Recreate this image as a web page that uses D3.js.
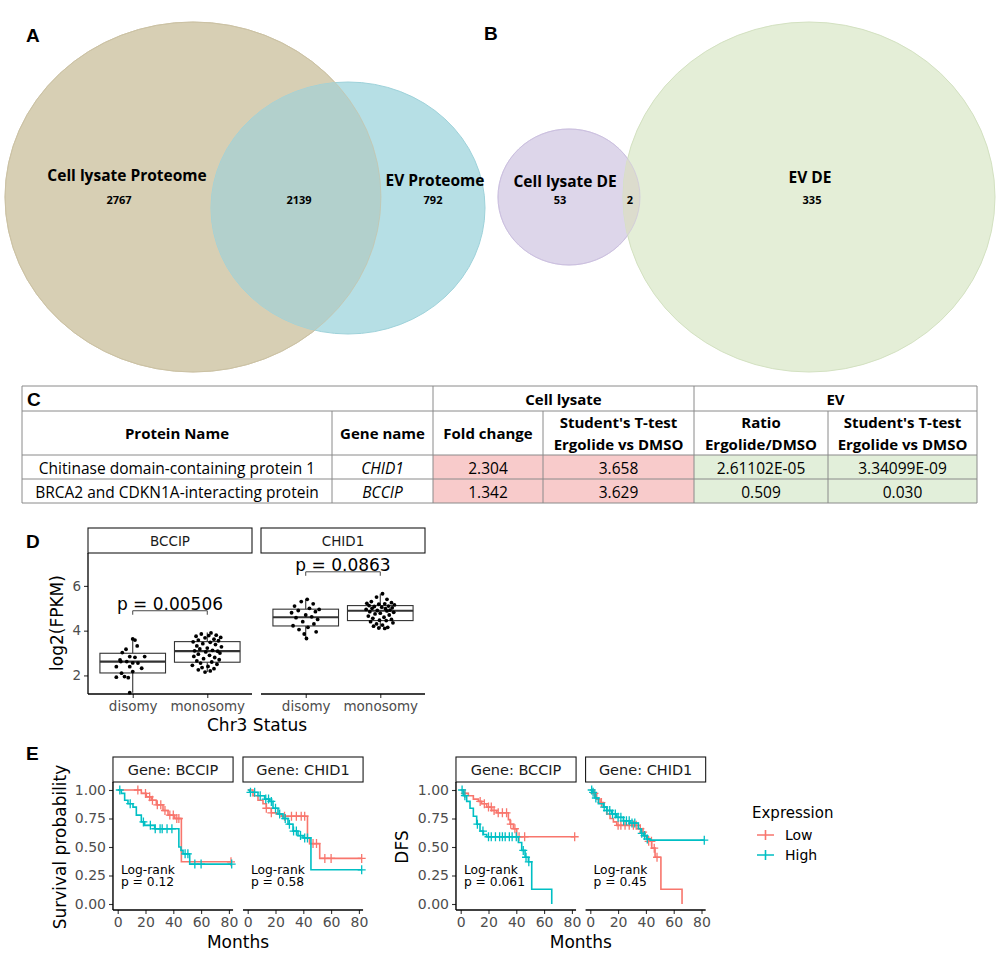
<!DOCTYPE html>
<html><head><meta charset="utf-8">
<script src="https://cdn.jsdelivr.net/npm/d3@7"></script>
<style>body{margin:0;background:#fff}svg{display:block}</style>
</head><body><svg id="fig" width="1000" height="970"></svg>
<script>
// ---------------- DATA ----------------
const vennASets = ["Cell lysate Proteome", "EV Proteome"];
const vennACounts = [2767, 2139, 792];           // left only, shared, right only
const vennBSets = ["Cell lysate DE", "EV DE"];
const vennBCounts = [53, 2, 335];

const tableGroups = ["Cell lysate", "EV"];
const tableHeaders = [["Protein Name"], ["Gene name"], ["Fold change"],
  ["Student's T-test", "Ergolide vs DMSO"], ["Ratio", "Ergolide/DMSO"], ["Student's T-test", "Ergolide vs DMSO"]];
const proteinNames = ["Chitinase domain-containing protein 1", "BRCA2 and CDKN1A-interacting protein"];
const geneNames = ["CHID1", "BCCIP"];
const lysateFoldChange = ["2.304", "1.342"];
const lysateTTest = ["3.658", "3.629"];
const evRatio = ["2.61102E-05", "0.509"];
const evTTest = ["3.34099E-09", "0.030"];

const boxGenes = ["BCCIP", "CHID1"];
const chr3Status = ["disomy", "monosomy"];
const yTicksD = [2, 4, 6];
// [min, q1, median, q3, max] per status
const boxBCCIP = [[1.23, 2.11, 2.62, 2.99, 3.63], [2.15, 2.59, 3.09, 3.51, 3.92]];
const boxCHID1 = [[3.65, 4.21, 4.60, 4.96, 5.40], [4.10, 4.45, 4.89, 5.12, 5.65]];
const pLabelsD = ["p = 0.00506", "p = 0.0863"];
const bracketHeightsD = [4.89, 6.63];
// [jitter offset (fraction of category step), log2(FPKM)]
const ptsBCCIPDisomy = [[0.00,3.63],[0.03,3.58],[-0.09,3.17],[0.06,3.32],[-0.14,3.02],[-0.04,2.84],[0.03,2.81],[0.16,2.84],
  [-0.17,2.69],[-0.08,2.62],[0.00,2.56],[-0.22,2.39],[-0.04,2.39],[0.12,2.32],[-0.15,2.10],[0.00,2.17],[-0.11,1.95],
  [-0.22,1.92],[-0.06,1.90],[-0.04,1.23],[-0.16,2.62],[0.07,2.55]];
const ptsBCCIPMonosomy = [[0.05,3.90],[-0.08,3.85],[0.12,3.80],[0.02,3.78],[-0.15,3.75],[0.18,3.70],[-0.03,3.68],[0.09,3.62],
  [-0.12,3.58],[0.15,3.55],[-0.19,3.50],[0.04,3.48],[-0.06,3.42],[0.11,3.38],[-0.14,3.32],[0.19,3.28],[0.00,3.22],[-0.10,3.18],
  [0.07,3.12],[-0.17,3.10],[0.14,3.08],[-0.02,3.05],[0.17,3.00],[-0.12,2.95],[0.03,2.90],[-0.18,2.85],[0.10,2.80],[-0.05,2.75],
  [0.16,2.70],[-0.14,2.65],[0.06,2.60],[-0.09,2.55],[0.13,2.50],[-0.20,2.45],[0.01,2.40],[-0.07,2.35],[0.09,2.30],[-0.12,2.25],
  [0.04,2.20],[-0.03,2.15]];
const ptsCHID1Disomy = [[0.02,5.40],[-0.06,5.30],[0.10,5.20],[-0.15,5.10],[0.05,5.00],[0.18,4.95],[-0.10,4.90],[0.13,4.85],
  [-0.19,4.80],[0.00,4.70],[0.08,4.62],[-0.13,4.58],[0.16,4.50],[-0.04,4.40],[0.11,4.30],[-0.17,4.22],[0.03,4.15],[-0.09,4.05],
  [0.14,3.95],[-0.02,3.85],[0.01,3.65]];
const ptsCHID1Monosomy = [[0.03,5.65],[-0.05,5.50],[0.09,5.40],[-0.12,5.30],[0.15,5.25],[-0.18,5.22],[0.06,5.20],[-0.02,5.18],
  [0.19,5.15],[-0.15,5.12],[0.11,5.10],[-0.08,5.08],[0.02,5.05],[0.16,5.02],[-0.11,5.00],[0.07,4.98],[-0.19,4.95],[0.13,4.92],
  [-0.04,4.90],[0.09,4.88],[-0.14,4.85],[0.18,4.82],[0.00,4.78],[-0.07,4.75],[0.12,4.70],[-0.16,4.65],[0.05,4.60],[-0.10,4.55],
  [0.15,4.50],[-0.01,4.47],[0.08,4.45],[-0.13,4.40],[0.17,4.35],[-0.05,4.30],[0.03,4.25],[-0.09,4.20],[0.10,4.15],[-0.02,4.12],
  [0.06,4.10]];

const kmGenes = ["Gene: BCCIP", "Gene: CHID1"];
const kmXTicks = [0, 20, 40, 60, 80];
const kmYTicks = [0, 0.25, 0.5, 0.75, 1];
const expressionLevels = ["Low", "High"];
// step functions: [months, probability after step]; censor marks: months
const osBCCIPLow = [[0,1],[17,0.97],[20.6,0.94],[24.2,0.91],[27.8,0.87],[32.6,0.82],[36.2,0.78],[41,0.75],[45.8,0.37]];
const osBCCIPLowCensor = [14.5,20,23,25,28.5,31,34,37.5,40,42.5,44,81.5];
const osBCCIPHigh = [[0,1],[2.6,0.97],[5,0.91],[7.4,0.88],[11,0.85],[13.4,0.78],[17,0.72],[19.4,0.69],[26.6,0.66],[32.6,0.66],[44,0.50],[45.5,0.47],[47,0.44],[51.8,0.35]];
const osBCCIPHighCensor = [1.5,9,18.5,23.5,27,30.5,32,35.5,39,48.5,50.5,55.5,60,82];
const osCHID1Low = [[0,1],[3.8,0.95],[7.4,0.91],[11,0.88],[13.4,0.84],[17,0.80],[20.6,0.79],[24.2,0.77],[43,0.58],[44.5,0.53],[51.8,0.40]];
const osCHID1LowCensor = [13.4,17,26.5,31.5,35,38.5,41,47,49.5,55.5,60,82];
const osCHID1High = [[0,1],[1.4,0.98],[7.4,0.95],[12.2,0.92],[15.8,0.90],[18.2,0.84],[21.8,0.79],[25.4,0.75],[29,0.70],[32.6,0.64],[36.2,0.60],[39.8,0.58],[45.5,0.30]];
const osCHID1HighCensor = [2,5,9,13,15,17,20,23,27,30,33,35,38,41,43,82];
const osLogRankP = ["0.12", "0.58"];
const dfsBCCIPLow = [[0,1],[1.9,0.97],[5.5,0.95],[9.1,0.92],[12.7,0.90],[15.1,0.88],[18.7,0.85],[22.3,0.82],[25.9,0.80],[34.3,0.74],[35.5,0.70],[37.9,0.66],[40.3,0.59]];
const dfsBCCIPLowCensor = [3,14,17,20,22,24,27,30,33,36,39,42,46,82];
const dfsBCCIPHigh = [[0,1],[1.9,0.95],[4.3,0.90],[6.7,0.84],[9.1,0.77],[11.5,0.70],[13.9,0.64],[16.3,0.61],[18.7,0.59],[41.5,0.54],[43.9,0.47],[46.3,0.41],[48.7,0.37],[51.1,0.13],[65.5,0]];
const dfsBCCIPHighCensor = [1,3,12,16,20,22,25,28,30,32,35,37,40,45,47,49];
const dfsCHID1Low = [[0,1],[2.2,0.97],[4.6,0.92],[7,0.89],[9.4,0.85],[11.8,0.79],[14.2,0.75],[16.6,0.72],[19,0.69],[34.6,0.66],[37,0.63],[39.4,0.59],[41.8,0.55],[44.2,0.49],[46.6,0.41],[50.8,0.13],[66,0]];
const dfsCHID1LowCensor = [3,8,20,22,25,28,31,33,36,38,42,44,46,48];
const dfsCHID1High = [[0,1],[1.5,0.98],[3.4,0.93],[5.8,0.88],[9.4,0.85],[11.8,0.82],[15.4,0.79],[19,0.76],[23.8,0.73],[28.6,0.71],[34.6,0.66],[36.5,0.62],[38.2,0.60],[40.6,0.57],[43,0.56]];
const dfsCHID1HighCensor = [1,2,4,10,12,14,16,18,20,22,24,26,28,30,32,37,39,41,82];
const dfsLogRankP = ["0.061", "0.45"];

// ---------------- DRAW ----------------
const svg = d3.select("#fig");
svg.append("rect").attr("width", 1000).attr("height", 970).attr("fill", "#fff");
const SANS = "'Open Sans', 'Noto Sans', sans-serif";
const GG = "'DejaVu Sans', sans-serif";
const LOW = "#F8766D", HIGH = "#00BFC4";

function panelLabel(t, x, y) {
  svg.append("text").attr("x", x).attr("y", y).text(t)
    .attr("font-family", "'Liberation Sans', Arial, sans-serif").attr("font-weight", "bold").attr("font-size", 19);
}

// ---------- Venn diagrams ----------
const defs = svg.append("defs");
function venn(id, L, R, ovColor, sets, counts, pos) {
  defs.append("clipPath").attr("id", id).append("ellipse")
    .attr("cx", L.cx).attr("cy", L.cy).attr("rx", L.rx).attr("ry", L.ry);
  const g = svg.append("g");
  g.append("ellipse").attr("cx", L.cx).attr("cy", L.cy).attr("rx", L.rx).attr("ry", L.ry)
    .attr("fill", L.fill).attr("stroke", L.stroke);
  g.append("ellipse").attr("cx", R.cx).attr("cy", R.cy).attr("rx", R.rx).attr("ry", R.ry)
    .attr("fill", R.fill).attr("stroke", R.stroke);
  g.append("ellipse").attr("cx", R.cx).attr("cy", R.cy).attr("rx", R.rx).attr("ry", R.ry)
    .attr("fill", ovColor).attr("clip-path", `url(#${id})`);
  g.append("ellipse").attr("cx", L.cx).attr("cy", L.cy).attr("rx", L.rx).attr("ry", L.ry)
    .attr("fill", "none").attr("stroke", L.stroke).attr("stroke-opacity", 0.6);
  sets.forEach((s, i) => g.append("text").attr("x", pos.labels[i][0]).attr("y", pos.labels[i][1])
    .attr("text-anchor", "middle").attr("dominant-baseline", "central")
    .attr("font-family", SANS).attr("font-weight", "bold").attr("font-size", 15.5).text(s));
  counts.forEach((c, i) => g.append("text").attr("x", pos.counts[i]).attr("y", 199)
    .attr("text-anchor", "middle").attr("dominant-baseline", "central")
    .attr("font-family", SANS).attr("font-weight", "bold").attr("font-size", 11).text(c));
}
venn("clipA",
  {cx: 193, cy: 197, rx: 188, ry: 175, fill: "#d7cfb4", stroke: "#cbc2a4"},
  {cx: 348, cy: 208, rx: 137, ry: 126, fill: "#b6dfe5", stroke: "#9ed2da"},
  "#b2d0cc", vennASets, vennACounts, {labels: [[127, 175], [435, 180]], counts: [119, 299, 433]});
venn("clipB",
  {cx: 569, cy: 197, rx: 71, ry: 68, fill: "#ddd6ea", stroke: "#cbc0df"},
  {cx: 809, cy: 197, rx: 186, ry: 175, fill: "#e4eed7", stroke: "#d3e1c1"},
  "#dcdccd", vennBSets, vennBCounts, {labels: [[565, 181], [810, 177]], counts: [560, 630, 812]});
panelLabel("A", 26, 42);
panelLabel("B", 484, 40);

// ---------- Table C ----------
const colX = [22, 332, 433, 543, 694, 828, 977];
const rowY = [386, 411, 455, 479, 503];
const tg = svg.append("g").attr("font-family", SANS).attr("font-size", 15.5).attr("fill", "#000");
const bodyCols = [proteinNames, geneNames, lysateFoldChange, lysateTTest, evRatio, evTTest];
const fills = [null, null, "#f8cbcb", "#f8cbcb", "#e2efda", "#e2efda"];
proteinNames.forEach((_, r) => {
  bodyCols.forEach((col, c) => {
    if (fills[c]) tg.append("rect").attr("x", colX[c]).attr("y", rowY[r + 2])
      .attr("width", colX[c + 1] - colX[c]).attr("height", rowY[r + 3] - rowY[r + 2]).attr("fill", fills[c]);
    tg.append("text").attr("x", (colX[c] + colX[c + 1]) / 2).attr("y", (rowY[r + 2] + rowY[r + 3]) / 2 + 1)
      .attr("text-anchor", "middle").attr("dominant-baseline", "central")
      .attr("font-style", c === 1 ? "italic" : "normal").text(col[r]);
  });
});
// grid lines
const gridColor = "#8a8a8a";
rowY.forEach(y => tg.append("line").attr("x1", colX[0]).attr("x2", colX[6]).attr("y1", y).attr("y2", y)
  .attr("stroke", gridColor).attr("stroke-width", 1));
[0, 2, 4, 6].forEach(i => tg.append("line").attr("x1", colX[i]).attr("x2", colX[i]).attr("y1", rowY[0]).attr("y2", rowY[4])
  .attr("stroke", gridColor));
[1, 3, 5].forEach(i => tg.append("line").attr("x1", colX[i]).attr("x2", colX[i]).attr("y1", rowY[1]).attr("y2", rowY[4])
  .attr("stroke", gridColor));
tg.append("text").attr("x", 27).attr("y", 406).text("C")
  .attr("font-family", "'Liberation Sans', Arial, sans-serif").attr("font-weight", "bold").attr("font-size", 19);
tableGroups.forEach((t, i) => tg.append("text").attr("x", (colX[2 + 2 * i] + colX[4 + 2 * i]) / 2).attr("y", 398.5)
  .attr("text-anchor", "middle").attr("dominant-baseline", "central").attr("font-weight", "bold").attr("font-size", 15).text(t));
tableHeaders.forEach((lines, c) => {
  const cx = (colX[c] + colX[c + 1]) / 2;
  lines.forEach((ln, k) => tg.append("text").attr("x", cx)
    .attr("y", lines.length === 1 ? 433 : (k === 0 ? 422 : 444))
    .attr("text-anchor", "middle").attr("dominant-baseline", "central").attr("font-weight", "bold").attr("font-size", 15).text(ln));
});

// ---------- Panel D: box plots ----------
panelLabel("D", 26, 548);
const yD = d3.scaleLinear().domain([1.17, 7.47]).range([694, 553]);
const dFacets = [
  {gene: boxGenes[0], x0: 88, x1: 252, box: boxBCCIP, pts: [ptsBCCIPDisomy, ptsBCCIPMonosomy], p: pLabelsD[0], h: bracketHeightsD[0]},
  {gene: boxGenes[1], x0: 261, x1: 425, box: boxCHID1, pts: [ptsCHID1Disomy, ptsCHID1Monosomy], p: pLabelsD[1], h: bracketHeightsD[1]}
];
dFacets.forEach((f, fi) => {
  const g = svg.append("g");
  const xD = d3.scalePoint().domain(chr3Status).range([f.x0, f.x1]).padding(0.6);
  const step = xD.step();
  const bw = step * 0.88;
  g.append("rect").attr("x", f.x0).attr("y", 528).attr("width", f.x1 - f.x0).attr("height", 25)
    .attr("fill", "#fff").attr("stroke", "#1a1a1a").attr("stroke-width", 1.1);
  g.append("text").attr("x", (f.x0 + f.x1) / 2).attr("y", 541).attr("text-anchor", "middle")
    .attr("dominant-baseline", "central").attr("font-family", GG).attr("font-size", 13.5).attr("fill", "#1a1a1a").text(f.gene);
  chr3Status.forEach((s, si) => {
    const [mn, q1, md, q3, mx] = f.box[si];
    const cx = xD(s);
    g.append("line").attr("x1", cx).attr("x2", cx).attr("y1", yD(mn)).attr("y2", yD(q1)).attr("stroke", "#333").attr("stroke-width", 1.1);
    g.append("line").attr("x1", cx).attr("x2", cx).attr("y1", yD(q3)).attr("y2", yD(mx)).attr("stroke", "#333").attr("stroke-width", 1.1);
    g.append("rect").attr("x", cx - bw / 2).attr("y", yD(q3)).attr("width", bw).attr("height", yD(q1) - yD(q3))
      .attr("fill", "#fff").attr("stroke", "#333").attr("stroke-width", 1.1);
    g.append("line").attr("x1", cx - bw / 2).attr("x2", cx + bw / 2).attr("y1", yD(md)).attr("y2", yD(md))
      .attr("stroke", "#333").attr("stroke-width", 2.2);
    g.selectAll(null).data(f.pts[si]).enter().append("circle")
      .attr("cx", d => cx + d[0] * step).attr("cy", d => yD(d[1])).attr("r", 1.9).attr("fill", "#000");
  });
  const bx1 = xD(chr3Status[0]), bx2 = xD(chr3Status[1]), by = yD(f.h);
  g.append("path").attr("d", `M${bx1},${by + 4}V${by}H${bx2}V${by + 4}`).attr("fill", "none").attr("stroke", "#333").attr("stroke-width", 0.9);
  g.append("text").attr("x", (bx1 + bx2) / 2).attr("y", by - 0.5).attr("text-anchor", "middle")
    .attr("font-family", GG).attr("font-size", 17).attr("fill", "#000").text(f.p);
  const ax = g.append("g").attr("transform", "translate(0,694)")
    .call(d3.axisBottom(xD).tickSize(4).tickPadding(3));
  ax.select(".domain").remove();
  ax.selectAll("line").attr("stroke", "#333").attr("stroke-width", 1.1);
  ax.selectAll("text").attr("font-family", GG).attr("font-size", 13.5).attr("fill", "#4d4d4d");
  g.append("line").attr("x1", f.x0).attr("x2", f.x1).attr("y1", 694).attr("y2", 694).attr("stroke", "#000").attr("stroke-width", 1.3);
  if (fi === 0) {
    const ay = g.append("g").attr("transform", `translate(${f.x0},0)`)
      .call(d3.axisLeft(yD).tickValues(yTicksD).tickSize(4).tickPadding(3).tickFormat(d3.format("d")));
    ay.select(".domain").remove();
    ay.selectAll("line").attr("stroke", "#333").attr("stroke-width", 1.1);
    ay.selectAll("text").attr("font-family", GG).attr("font-size", 13.5).attr("fill", "#4d4d4d");
    g.append("line").attr("x1", f.x0).attr("x2", f.x0).attr("y1", 553).attr("y2", 694).attr("stroke", "#000").attr("stroke-width", 1.3);
  }
});
svg.append("text").attr("x", 257).attr("y", 731).attr("text-anchor", "middle").attr("font-family", GG)
  .attr("font-size", 17).text("Chr3 Status");
svg.append("text").attr("transform", "translate(63,623) rotate(-90)").attr("text-anchor", "middle").attr("font-family", GG)
  .attr("font-size", 17).text("log2(FPKM)");

// ---------- Panel E: Kaplan-Meier ----------
panelLabel("E", 26, 760);
const yK = d3.scaleLinear().domain([-0.05, 1.05]).range([909.7, 784.3]);
const PXM = 1.39;
function kmPlot(title, titleX, x0s, curves, pvals) {
  const left = x0s[0] - 3.4 * PXM, right = x0s[1] + 83 * PXM;
  x0s.forEach((x0, pi) => {
    const g = svg.append("g");
    const xK = d3.scaleLinear().domain([-3.4, 83]).range([x0 - 3.4 * PXM, x0 + 83 * PXM]);
    const [px0, px1] = xK.range();
    g.append("rect").attr("x", px0).attr("y", 757).attr("width", px1 - px0).attr("height", 25)
      .attr("fill", "#fff").attr("stroke", "#1a1a1a").attr("stroke-width", 1.1);
    g.append("text").attr("x", (px0 + px1) / 2).attr("y", 770).attr("text-anchor", "middle").attr("dominant-baseline", "central")
      .attr("font-family", GG).attr("font-size", 14.5).attr("fill", "#1a1a1a").text(kmGenes[pi]);
    const line = d3.line().x(d => xK(d[0])).y(d => yK(d[1])).curve(d3.curveStepAfter);
    curves[pi].forEach((c, ci) => {
      const color = ci === 0 ? LOW : HIGH;
      const last = c.steps[c.steps.length - 1];
      const end = Math.max(last[0], d3.max(c.censor));
      const data = c.steps.concat([[end, last[1]]]);
      g.append("path").attr("d", line(data)).attr("fill", "none").attr("stroke", color).attr("stroke-width", 1.6);
      const surv = t => { let s = 1; c.steps.forEach(d => { if (d[0] <= t) s = d[1]; }); return s; };
      c.censor.forEach(t => {
        const cx = xK(t), cy = yK(surv(t));
        g.append("path").attr("d", `M${cx - 4},${cy}H${cx + 4}M${cx},${cy - 4.5}V${cy + 4.5}`)
          .attr("stroke", color).attr("stroke-width", 1.3);
      });
    });
    g.append("text").attr("x", xK(2.3)).attr("y", yK(0.265)).attr("font-family", GG).attr("font-size", 12.3).text("Log-rank");
    g.append("text").attr("x", xK(2.3)).attr("y", yK(0.155)).attr("font-family", GG).attr("font-size", 12.3).text("p = " + pvals[pi]);
    const ax = g.append("g").attr("transform", "translate(0,910)")
      .call(d3.axisBottom(xK).tickValues(kmXTicks).tickSize(4).tickPadding(3));
    ax.select(".domain").remove();
    ax.selectAll("line").attr("stroke", "#333").attr("stroke-width", 1.1);
    ax.selectAll("text").attr("font-family", GG).attr("font-size", 14).attr("fill", "#4d4d4d");
    g.append("line").attr("x1", px0).attr("x2", px1).attr("y1", 910).attr("y2", 910).attr("stroke", "#000").attr("stroke-width", 1.4);
    if (pi === 0) {
      const ay = g.append("g").attr("transform", `translate(${px0},0)`)
        .call(d3.axisLeft(yK).tickValues(kmYTicks).tickSize(4).tickPadding(3).tickFormat(d3.format(".2f")));
      ay.select(".domain").remove();
      ay.selectAll("line").attr("stroke", "#333").attr("stroke-width", 1.1);
      ay.selectAll("text").attr("font-family", GG).attr("font-size", 14).attr("fill", "#4d4d4d");
      g.append("line").attr("x1", px0).attr("x2", px0).attr("y1", 782).attr("y2", 910).attr("stroke", "#000").attr("stroke-width", 1.4);
    }
  });
  svg.append("text").attr("x", (left + right) / 2).attr("y", 948).attr("text-anchor", "middle").attr("font-family", GG)
    .attr("font-size", 17).text("Months");
  svg.append("text").attr("transform", `translate(${titleX},847) rotate(-90)`).attr("text-anchor", "middle")
    .attr("font-family", GG).attr("font-size", 17).text(title);
}
kmPlot("Survival probability", 66, [117.7, 247.7],
  [[{steps: osBCCIPLow, censor: osBCCIPLowCensor}, {steps: osBCCIPHigh, censor: osBCCIPHighCensor}],
   [{steps: osCHID1Low, censor: osCHID1LowCensor}, {steps: osCHID1High, censor: osCHID1HighCensor}]], osLogRankP);
kmPlot("DFS", 408, [460.7, 590.3],
  [[{steps: dfsBCCIPLow, censor: dfsBCCIPLowCensor}, {steps: dfsBCCIPHigh, censor: dfsBCCIPHighCensor}],
   [{steps: dfsCHID1Low, censor: dfsCHID1LowCensor}, {steps: dfsCHID1High, censor: dfsCHID1HighCensor}]], dfsLogRankP);

// legend
const lg = svg.append("g");
lg.append("text").attr("x", 752).attr("y", 818).attr("font-family", GG).attr("font-size", 15).text("Expression");
expressionLevels.forEach((lv, i) => {
  const y = 835 + i * 20, col = i === 0 ? LOW : HIGH;
  lg.append("path").attr("d", `M757,${y}H774M765.5,${y - 5}V${y + 5}`).attr("stroke", col).attr("stroke-width", 1.6);
  lg.append("text").attr("x", 785).attr("y", y).attr("dominant-baseline", "central").attr("font-family", GG)
    .attr("font-size", 14).text(lv);
});
</script></body></html>
